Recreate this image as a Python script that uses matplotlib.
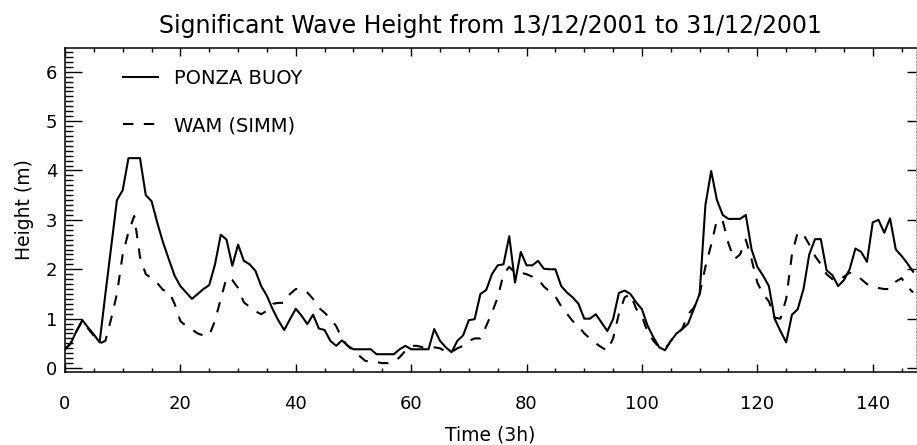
import matplotlib
matplotlib.use("Agg")
import matplotlib.pyplot as plt
from matplotlib.ticker import MultipleLocator

# time steps of 3 hours, 13/12/2001 -> 31/12/2001
t = list(range(148))

# significant wave height (m) measured at the Ponza buoy
ponza = [0.38, 0.50, 0.75, 0.97, 0.82, 0.68, 0.52, 1.50, 2.45, 3.40,
         3.60, 4.25, 4.25, 4.25, 3.50, 3.38, 2.94, 2.54, 2.20, 1.87,
         1.66, 1.53, 1.40, 1.50, 1.60, 1.68, 2.10, 2.70, 2.60, 2.07,
         2.50, 2.17, 2.10, 1.97, 1.66, 1.46, 1.19, 0.96, 0.77, 0.99,
         1.20, 1.06, 0.89, 1.08, 0.80, 0.77, 0.55, 0.45, 0.56, 0.45,
         0.38, 0.38, 0.38, 0.38, 0.28, 0.28, 0.28, 0.28, 0.38, 0.45,
         0.38, 0.38, 0.38, 0.38, 0.79, 0.55, 0.42, 0.32, 0.55, 0.66,
         0.97, 0.99, 1.50, 1.58, 1.90, 2.08, 2.10, 2.67, 1.73, 2.35,
         2.08, 2.08, 2.17, 2.01, 2.00, 2.00, 1.66, 1.53, 1.43, 1.30,
         1.00, 1.00, 1.09, 0.92, 0.75, 0.99, 1.52, 1.57, 1.50, 1.33,
         1.19, 0.85, 0.62, 0.42, 0.36, 0.55, 0.70, 0.79, 0.90, 1.20,
         1.50, 3.30, 3.99, 3.40, 3.10, 3.02, 3.02, 3.02, 3.10, 2.40,
         2.05, 1.87, 1.66, 1.00, 0.75, 0.52, 1.08, 1.19, 1.60, 2.30,
         2.61, 2.61, 1.98, 1.88, 1.66, 1.78, 2.00, 2.42, 2.35, 2.15,
         2.95, 3.00, 2.74, 3.03, 2.40, 2.27, 2.12, 1.95]

# WAM model run (SIMM)
wam = [0.38, 0.50, 0.75, 0.95, 0.80, 0.65, 0.50, 0.55, 1.00, 1.50,
       2.30, 2.75, 3.08, 2.25, 1.90, 1.82, 1.72, 1.58, 1.55, 1.30,
       0.95, 0.85, 0.78, 0.70, 0.66, 0.66, 0.96, 1.40, 1.83, 1.78,
       1.62, 1.33, 1.24, 1.15, 1.09, 1.16, 1.30, 1.32, 1.32, 1.50,
       1.60, 1.60, 1.53, 1.40, 1.22, 1.12, 1.00, 0.85, 0.60, 0.45,
       0.35, 0.25, 0.15, 0.12, 0.12, 0.10, 0.10, 0.12, 0.22, 0.35,
       0.45, 0.45, 0.42, 0.42, 0.42, 0.40, 0.33, 0.32, 0.40, 0.45,
       0.55, 0.60, 0.60, 0.85, 1.12, 1.43, 1.90, 2.05, 1.93, 1.93,
       1.90, 1.85, 1.80, 1.65, 1.55, 1.45, 1.25, 1.10, 0.95, 0.85,
       0.70, 0.60, 0.50, 0.42, 0.35, 0.60, 1.10, 1.43, 1.50, 1.20,
       1.05, 0.72, 0.55, 0.42, 0.38, 0.55, 0.68, 0.80, 1.09, 1.22,
       1.50, 2.05, 2.50, 3.00, 2.98, 2.52, 2.20, 2.30, 2.60, 2.20,
       1.73, 1.50, 1.35, 1.02, 1.00, 1.40, 2.30, 2.75, 2.70, 2.50,
       2.27, 2.10, 1.90, 1.80, 1.77, 1.85, 1.93, 1.90, 1.80, 1.70,
       1.66, 1.62, 1.60, 1.60, 1.75, 1.82, 1.65, 1.53]

plt.rcParams['font.family'] = ['DejaVu Sans']

fig = plt.figure(figsize=(9.17, 4.45), dpi=100)
ax = fig.add_axes([65 / 917, 1 - 372 / 445, 851 / 917, 324 / 445])

ax.plot(t, ponza, color='black', lw=1.5, label='PONZA BUOY')
ax.plot(t, wam, color='black', lw=1.5, dashes=(5, 5), label='WAM (SIMM)')

ax.set_xlim(0, 147.5)
ax.set_ylim(-0.08, 6.48)

ax.xaxis.set_major_locator(MultipleLocator(20))
ax.xaxis.set_minor_locator(MultipleLocator(5))
ax.yaxis.set_major_locator(MultipleLocator(1))
ax.yaxis.set_minor_locator(MultipleLocator(0.1))

ax.tick_params(axis='x', which='both', direction='in', top=True, width=1.0,
               labelsize=13, pad=16.5)
ax.tick_params(axis='x', which='major', length=5.8)
ax.tick_params(axis='x', which='minor', length=2.9)
ax.tick_params(axis='y', which='both', direction='in', right=False, width=1.0,
               labelsize=13, pad=5.5)
ax.tick_params(axis='y', which='major', length=12)
ax.tick_params(axis='y', which='minor', length=6)

# right side only carries short major ticks
ax2 = ax.twinx()
ax2.set_ylim(ax.get_ylim())
ax2.yaxis.set_major_locator(MultipleLocator(1))
ax2.tick_params(axis='y', direction='in', length=6.5, width=1.0, labelright=False)
for s in ax2.spines.values():
    s.set_visible(False)

for name in ['left', 'bottom', 'top']:
    ax.spines[name].set_linewidth(1.1)
ax.spines['right'].set_color('0.6')
ax.spines['right'].set_linewidth(0.8)
ax.spines['right'].set_linestyle((0, (1, 2)))

ax.set_title('Significant Wave Height from 13/12/2001 to 31/12/2001',
             fontsize=17, y=1.068, pad=0, va='center')
ax.set_xlabel('Time (3h)', fontsize=13.5)
ax.xaxis.set_label_coords(0.5, (372 - 435) / 324)
ax.xaxis.label.set_va('center')
ax.set_ylabel('Height (m)', fontsize=13.5)
ax.yaxis.set_label_coords((25 - 65) / 851, 0.5)
ax.yaxis.label.set_va('center')

ax.legend(loc='upper left', bbox_to_anchor=((123 - 65) / 851, 1 - (69 - 48) / 324),
          frameon=False, fontsize=14, handlelength=1.8, handletextpad=0.8,
          labelspacing=1.45, borderpad=0, borderaxespad=0)

fig.savefig('out.png', dpi=100)
